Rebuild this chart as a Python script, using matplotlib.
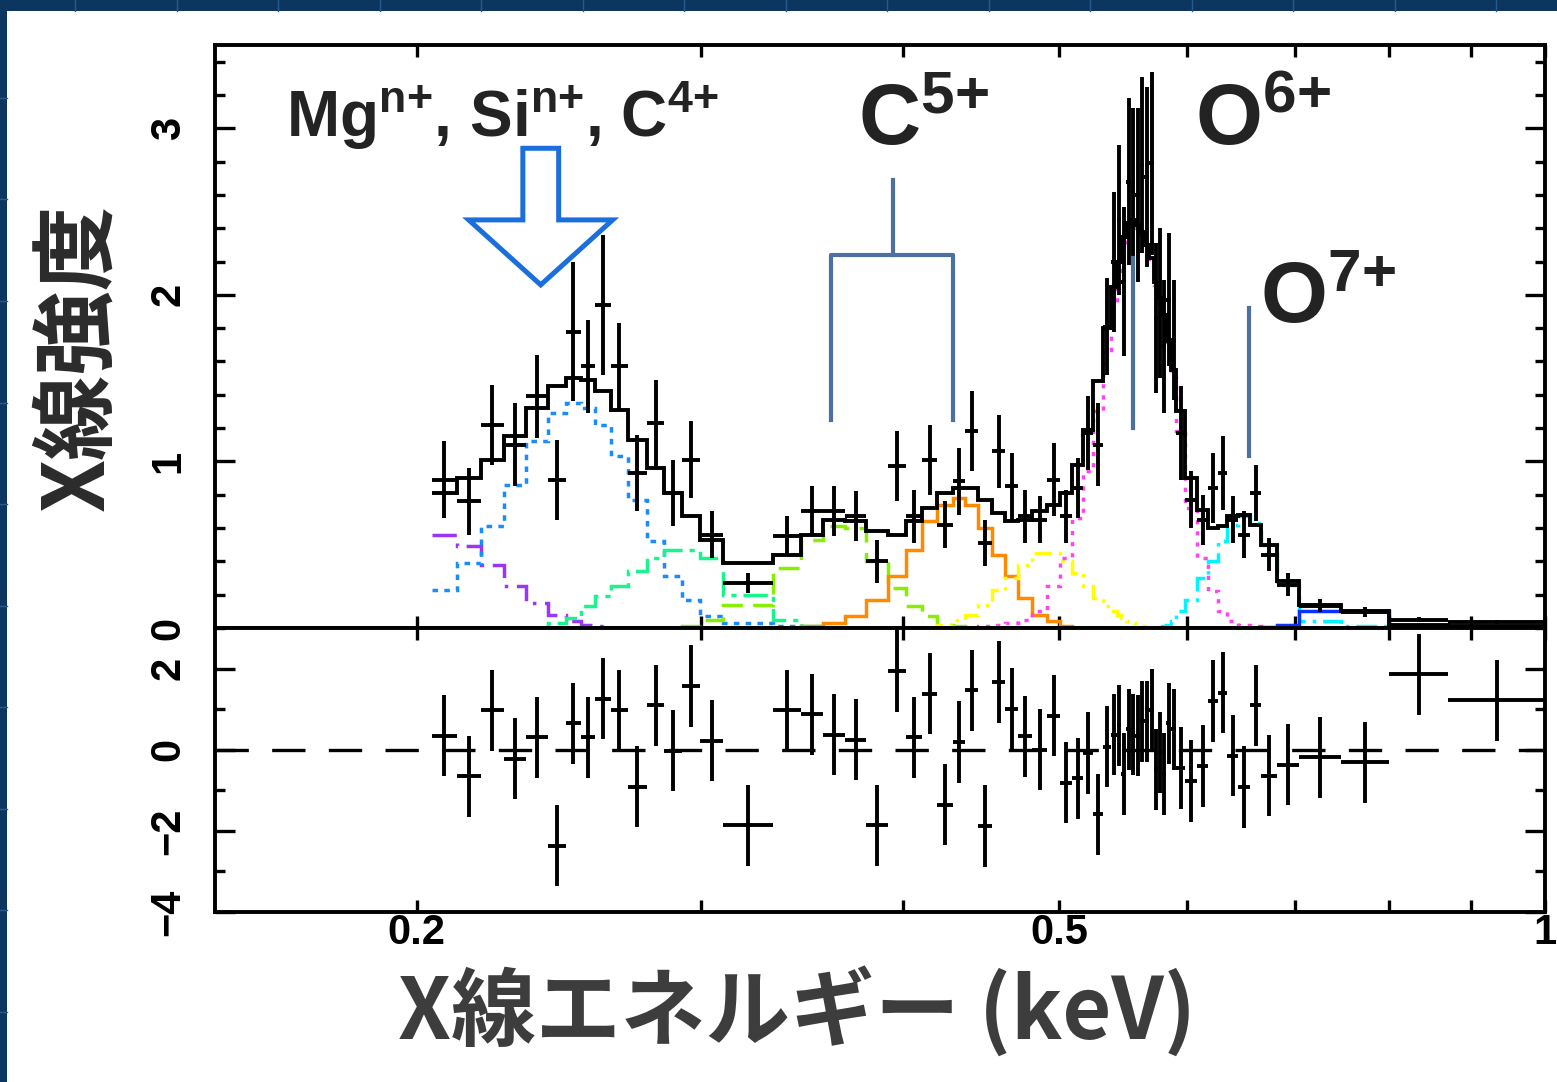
import matplotlib
matplotlib.use('Agg')
import matplotlib.pyplot as plt
import numpy as np
from matplotlib.ticker import FixedLocator, MultipleLocator, NullFormatter, FixedFormatter
from matplotlib.patches import Polygon, Rectangle
from matplotlib.lines import Line2D

plt.rcParams['font.family'] = ['Liberation Sans', 'Noto Sans CJK JP']
plt.rcParams['font.weight'] = 'bold'
plt.rcParams['mathtext.fontset'] = 'custom'
plt.rcParams['mathtext.rm'] = 'Liberation Sans:bold'
plt.rcParams['mathtext.it'] = 'Liberation Sans:bold'
plt.rcParams['mathtext.bf'] = 'Liberation Sans:bold'

# ---- spectrum binning (keV bin edges) ----
edges = [0.2043, 0.2117, 0.2191, 0.2264, 0.2336, 0.2411, 0.2473, 0.2527, 0.2581, 0.2637,
         0.2702, 0.2776, 0.2848, 0.2918, 0.2998, 0.3098, 0.3327, 0.3458, 0.3573, 0.3687,
         0.3799, 0.3920, 0.4022, 0.4115, 0.4204, 0.4295, 0.4375, 0.4457, 0.4547, 0.4632,
         0.4718, 0.4813, 0.4918, 0.5010, 0.5096, 0.5177, 0.5251, 0.5326, 0.5387, 0.5434,
         0.5465, 0.5504, 0.5543, 0.5575, 0.5615, 0.5647, 0.5687, 0.5728, 0.5761, 0.5794,
         0.5827, 0.5869, 0.5911, 0.5987, 0.6090, 0.6186, 0.6275, 0.6356, 0.6457, 0.6568,
         0.6672, 0.6826, 0.7043, 0.7478, 0.8008, 0.8711, 1.0]

counts = [0.89, 0.76, 1.22, 1.10, 1.39, 0.89, 1.78, 1.57, 1.94, 1.57,
          0.93, 1.23, 0.81, 1.01, 0.56, 0.27, 0.55, 0.70, 0.70, 0.67,
          0.40, 0.97, 0.67, 1.01, 0.62, 0.88, 1.18, 0.51, 1.06, 0.85,
          0.67, 0.65, 0.89, 0.67, 0.84, 1.17, 1.10, 1.81, 2.20, 2.45,
          2.08, 2.68, 2.62, 2.60, 2.78, 2.71, 2.79, 1.86, 1.95, 1.69,
          1.97, 1.73, 1.17, 0.77, 0.65, 0.84, 0.93, 0.65, 0.56, 0.81,
          0.44, 0.26, 0.135, 0.095, 0.05, 0.035]

count_err = [0.23, 0.20, 0.24, 0.25, 0.25, 0.24, 0.42, 0.28, 0.42, 0.26,
             0.23, 0.26, 0.20, 0.23, 0.14, 0.06, 0.12, 0.15, 0.15, 0.15,
             0.13, 0.21, 0.16, 0.21, 0.14, 0.20, 0.24, 0.14, 0.22, 0.20,
             0.16, 0.14, 0.22, 0.16, 0.18, 0.22, 0.25, 0.29, 0.42, 0.45,
             0.45, 0.50, 0.50, 0.52, 0.53, 0.54, 0.55, 0.45, 0.45, 0.40,
             0.40, 0.36, 0.28, 0.17, 0.15, 0.21, 0.22, 0.14, 0.14, 0.17,
             0.10, 0.07, 0.04, 0.03, 0.015, 0.012]

model_total = [0.81, 0.90, 1.01, 1.15, 1.32, 1.45, 1.50, 1.49, 1.42, 1.31,
               1.13, 0.96, 0.81, 0.67, 0.53, 0.39, 0.44, 0.56, 0.65, 0.64,
               0.58, 0.56, 0.64, 0.72, 0.81, 0.84, 0.84, 0.77, 0.69, 0.64,
               0.65, 0.70, 0.74, 0.81, 0.98, 1.19, 1.48, 1.80, 2.05, 2.20,
               2.35, 2.43, 2.45, 2.42, 2.38, 2.30, 2.22, 2.08, 1.98, 1.88,
               1.72, 1.55, 1.30, 0.90, 0.71, 0.60, 0.61, 0.67, 0.68, 0.62,
               0.50, 0.28, 0.14, 0.10, 0.02, 0.01]

residuals = [0.35, -0.66, 0.97, -0.22, 0.31, -2.37, 0.65, 0.31, 1.26, 0.97,
             -0.91, 1.09, -0.02, 1.57, 0.22, -1.86, 0.97, 0.87, 0.37, 0.25,
             -1.86, 1.94, 0.31, 1.38, -1.36, 0.19, 1.46, -1.88, 1.67, 1.01,
             0.33, 0.00, 0.84, -0.81, -0.70, -0.08, -1.59, 0.07, 0.37, 0.60,
             -0.60, 0.50, 0.37, 0.35, 0.70, 0.70, 0.99, -0.48, -0.06, -0.60,
             0.65, 0.50, -0.45, -0.77, -0.40, 1.20, 1.41, -0.15, -0.92, 1.10,
             -0.64, -0.37, -0.19, -0.31, 1.86, 1.22]
resid_err = 1.0

# ---- model components (same bins) ----
comp_purple = [0.56, 0.49, 0.38, 0.25, 0.15, 0.08, 0.04, 0.02, 0.01] + [0.0] * 57
comp_skyblue = [0.23, 0.39, 0.61, 0.86, 1.12, 1.29, 1.35, 1.32, 1.22, 1.03,
                0.77, 0.52, 0.31, 0.17, 0.07, 0.03, 0.01] + [0.0] * 49
comp_spring = [0.0] * 5 + [0.03, 0.06, 0.13, 0.19, 0.25, 0.34, 0.42, 0.47, 0.47,
                           0.42, 0.20, 0.05, 0.01] + [0.0] * 48
comp_lime = [0.0] * 13 + [0.01, 0.05, 0.14, 0.36, 0.53, 0.61, 0.60, 0.40, 0.24,
                          0.13, 0.07, 0.02, 0.01] + [0.0] * 40
comp_orange = [0.0] * 17 + [0.01, 0.03, 0.07, 0.17, 0.31, 0.47, 0.64, 0.74, 0.78,
                            0.74, 0.60, 0.44, 0.31, 0.18, 0.08, 0.04, 0.01] + [0.0] * 32
comp_yellow = [0.0] * 24 + [0.02, 0.05, 0.08, 0.14, 0.23, 0.30, 0.38, 0.45, 0.45,
                            0.40, 0.33, 0.25, 0.18, 0.13, 0.10, 0.08, 0.06, 0.04,
                            0.03, 0.02, 0.01] + [0.0] * 21
comp_magenta = [0.0] * 27 + [0.01, 0.02, 0.03, 0.05, 0.10, 0.25, 0.42, 0.66, 0.94,
                             1.30, 1.67, 1.95, 2.12, 2.28, 2.38, 2.43, 2.40, 2.36,
                             2.28, 2.20, 2.06, 1.96, 1.85, 1.68, 1.50, 1.18, 0.72,
                             0.42, 0.22, 0.10, 0.04, 0.02, 0.01] + [0.0] * 6
comp_cyan = [0.0] * 49 + [0.01, 0.02, 0.04, 0.10, 0.17, 0.30, 0.40, 0.52, 0.62,
                          0.67, 0.63, 0.50, 0.26, 0.04, 0.01] + [0.0] * 2
comp_blue = [0.0] * 60 + [0.005, 0.02, 0.10, 0.10, 0.01, 0.0]

components = [
    (comp_purple, '#9a36f5', (7, 2.5, 1, 2.5)),
    (comp_skyblue, '#1a8cff', (1.6, 1.8)),
    (comp_spring, '#19f58c', (7, 2, 1.5, 2)),
    (comp_lime, '#86f000', (6, 3)),
    (comp_orange, '#ff8a00', None),
    (comp_yellow, '#ffff00', (5, 2, 1, 2, 1, 2)),
    (comp_magenta, '#ff44f0', (1.2, 2.0)),
    (comp_cyan, '#00f5ff', (6, 2, 1, 2)),
    (comp_blue, '#0a32ff', None),
]

edges = np.array(edges)
centers = np.sqrt(edges[:-1] * edges[1:])
xerr = [centers - edges[:-1], edges[1:] - centers]

W, H = 1557, 1082
fig = plt.figure(figsize=(W / 100, H / 100), dpi=100)
fig.patch.set_facecolor('#0c3660')
fig.add_artist(Rectangle((7 / W, 0), 1, 1 - 11 / H, transform=fig.transFigure,
                         facecolor='white', edgecolor='none', zorder=-5))
for gx in np.arange(75, W, 101.5):
    fig.add_artist(Line2D([gx / W, gx / W], [1 - 11 / H, 1], transform=fig.transFigure,
                          color='#285a8c', lw=1.0, zorder=-4))
for gy in np.arange(98, H, 101.5):
    fig.add_artist(Line2D([0, 7 / W], [1 - gy / H, 1 - gy / H], transform=fig.transFigure,
                          color='#285a8c', lw=1.0, zorder=-4))

left, right = 215 / W, 1545 / W
ax1 = fig.add_axes([left, 1 - 628 / H, right - left, (628 - 45) / H])
ax2 = fig.add_axes([left, 1 - 912 / H, right - left, (912 - 628) / H])

# upper panel: components, model, data
for vals, col, dash in components:
    st = ax1.stairs(vals, edges, baseline=None, color=col, lw=2.5, zorder=2)
    if dash is not None:
        st.set_linestyle((0, dash))
ax1.stairs(model_total, edges, baseline=None, color='k', lw=2.8, zorder=3)
ax1.errorbar(centers, counts, xerr=xerr, yerr=count_err, fmt='none',
             ecolor='k', elinewidth=2.8, capsize=0, zorder=4)

# lower panel: residuals
ax2.axhline(0, color='k', lw=2.4, dashes=(10, 7), zorder=1)
ax2.errorbar(centers, residuals, xerr=xerr, yerr=resid_err, fmt='none',
             ecolor='k', elinewidth=2.8, capsize=0, zorder=3)

for ax in (ax1, ax2):
    ax.set_xscale('log')
    ax.set_xlim(0.15, 1.0)
    ax.xaxis.set_major_locator(FixedLocator([0.2, 0.5, 1.0]))
    ax.xaxis.set_minor_locator(FixedLocator([0.3, 0.4, 0.6, 0.7, 0.8, 0.9]))
    ax.xaxis.set_minor_formatter(NullFormatter())
    for sp in ax.spines.values():
        sp.set_linewidth(2.8)
    ax.tick_params(which='both', direction='in', top=True, right=True, width=2.4,
                   labelsize=30, pad=19)
    ax.tick_params(axis='x', which='both', length=8.5)
    ax.tick_params(axis='y', which='major', length=14.5, labelrotation=90)
    ax.tick_params(axis='y', which='minor', length=7.5)

ax1.set_ylim(0, 3.5)
ax1.yaxis.set_major_locator(MultipleLocator(1))
ax1.yaxis.set_minor_locator(MultipleLocator(0.2))
ax1.xaxis.set_major_formatter(NullFormatter())

ax2.set_ylim(-4, 3)
ax2.yaxis.set_major_locator(FixedLocator([-4, -2, 0, 2]))
ax2.yaxis.set_minor_locator(MultipleLocator(1))
ax2.xaxis.set_major_formatter(FixedFormatter(['0.2', '0.5', '1']))
ax2.tick_params(axis='x', pad=15)

for ax in (ax1, ax2):
    for lab in ax.get_yticklabels() + ax.get_xticklabels():
        lab.set_fontweight('bold')
        lab.set_va('center')

# annotations
txt_kw = dict(color='#232323', fontweight='bold', ha='left', va='baseline',
              transform=ax1.transData, clip_on=False, zorder=6)
ax1.text(0.1659, 2.95, r'Mg$^{n{+}}$, Si$^{n{+}}$, C$^{4{+}}$', fontsize=46, **txt_kw)
ax1.text(0.3756, 2.90, r'C$^{5{+}}$', fontsize=62, **txt_kw)
ax1.text(0.6072, 2.90, r'O$^{6{+}}$', fontsize=62, **txt_kw)
ax1.text(0.6663, 1.83, r'O$^{7{+}}$', fontsize=62, **txt_kw)

arrow_x = [0.2327, 0.2449, 0.2449, 0.2645, 0.2387, 0.2154, 0.2327]
arrow_y = [2.88, 2.88, 2.45, 2.45, 2.06, 2.45, 2.45]
ax1.add_patch(Polygon(np.column_stack([arrow_x, arrow_y]), closed=True, fill=False,
                      edgecolor='#1b6fdc', lw=3.6, joinstyle='miter', zorder=5))

brk = '#4d70a2'
ax1.plot([0.3943, 0.3943], [2.69, 2.24], color=brk, lw=3, zorder=5)
ax1.plot([0.3609, 0.3609, 0.4295, 0.4295], [1.25, 2.24, 2.24, 1.25], color=brk, lw=3, zorder=5)
ax1.plot([0.5559, 0.5559], [2.22, 1.20], color=brk, lw=3, zorder=5)
ax1.plot([0.6559, 0.6559], [1.92, 1.03], color=brk, lw=3, zorder=5)

fig.text(0.050, 0.670, 'X線強度', rotation=90, fontsize=61, fontweight='bold',
         family=['Noto Sans CJK JP', 'DejaVu Sans'], color='#2b2b2b', ha='center', va='center')
fig.text(0.512, 0.065, 'X線エネルギー (keV)', fontsize=61, fontweight='bold',
         family=['Noto Sans CJK JP', 'DejaVu Sans'], color='#3d3d3d', ha='center', va='center')

fig.savefig('out.png', dpi=100, facecolor=fig.get_facecolor())
